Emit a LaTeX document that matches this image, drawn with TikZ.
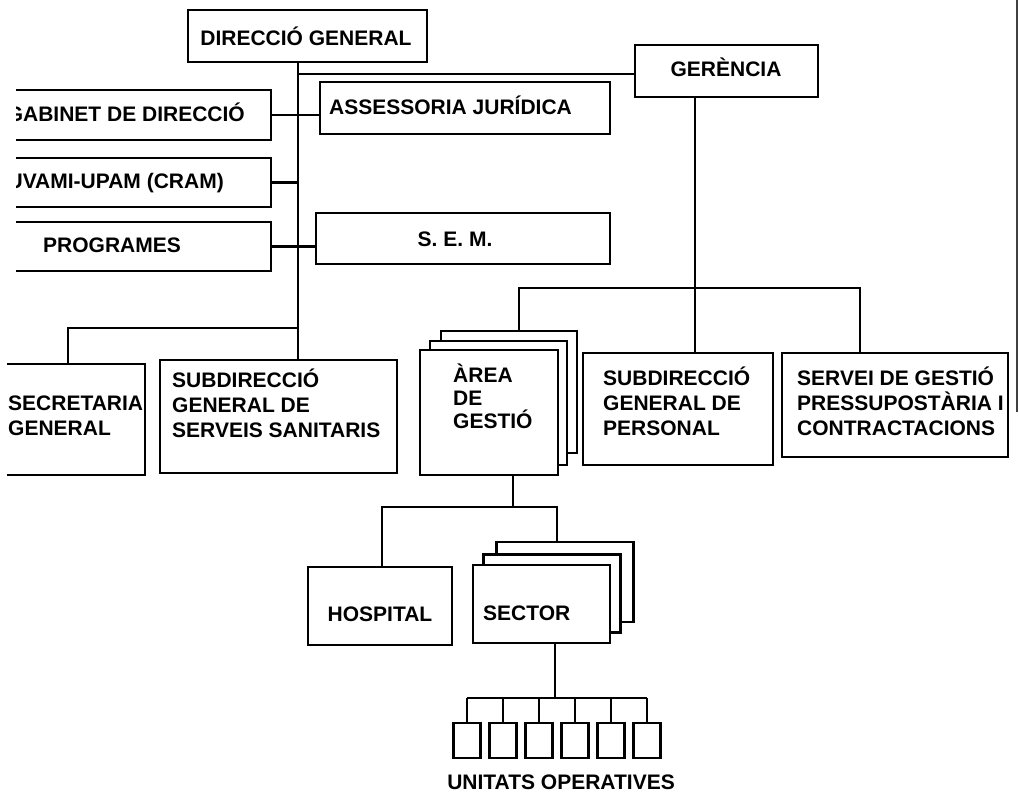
\documentclass[tikz,border=0pt]{standalone}
\usepackage{fontspec}
\setmainfont{Liberation Sans}
\begin{document}
\begin{tikzpicture}[x=1pt,y=-1pt,
  box/.style={draw,line width=2.8pt,fill=white,inner sep=0pt,outer sep=0pt},
  lbl/.style={font=\bfseries\fontsize{21}{25}\selectfont,inner sep=0pt},
  wire/.style={line width=2.4pt},
]
\useasboundingbox (0,0) rectangle (1019,794);

% ---- top level
\node[box,minimum width=239pt,minimum height=52pt] (dg) at (307.5,36) {};
\node[lbl,anchor=base] (dgT) at (306,46) {DIRECCIÓ GENERAL};
\node[box,minimum width=183pt,minimum height=52pt] (ger) at (726.5,71) {};
\node[lbl,anchor=base] (gerT) at (726,77) {GERÈNCIA};

% ---- staff units on the left (cut by the page edge)
\begin{scope}
  \clip (16,80) rectangle (300,280);
  \node[box,minimum width=351pt,minimum height=50pt] (gab) at (95.5,115) {};
  \node[lbl,anchor=base east] (gabT) at (245,122) {GABINET DE DIRECCIÓ};
  \node[box,minimum width=351pt,minimum height=49pt] (uva) at (95.5,182.5) {};
  \node[lbl,anchor=base east] (uvaT) at (224,189) {UVAMI-UPAM (CRAM)};
  \node[box,minimum width=351pt,minimum height=49pt] (prog) at (95.5,246.5) {};
  \node[lbl,anchor=base] (progT) at (112,253) {PROGRAMES};
\end{scope}

% ---- staff units on the right of the trunk
\node[box,minimum width=290pt,minimum height=52pt] (ass) at (465,108) {};
\node[lbl,anchor=base west] (assT) at (329,115) {ASSESSORIA JURÍDICA};
\node[box,minimum width=294pt,minimum height=51pt] (sem) at (463,238.5) {};
\node[lbl,anchor=base] (semT) at (455,247) {S. E. M.};

% ---- second level, direcció
\begin{scope}
  \clip (7,340) rectangle (160,490);
  \node[box,minimum width=154pt,minimum height=111pt] (sec) at (68,419.5) {};
  \node[lbl,anchor=base west] (secT1) at (8,410) {SECRETARIA};
  \node[lbl,anchor=base west] (secT2) at (8,435) {GENERAL};
\end{scope}
\node[box,minimum width=237pt,minimum height=113pt] (ssan) at (278.5,416.5) {};
\node[lbl,anchor=base west] (ssanT1) at (172,387) {SUBDIRECCIÓ};
\node[lbl,anchor=base west] (ssanT2) at (172,412) {GENERAL DE};
\node[lbl,anchor=base west] (ssanT3) at (172,437) {SERVEIS SANITARIS};

% ---- second level, gerència
\node[box,minimum width=136pt,minimum height=122pt] (areaC) at (509,392) {};
\node[box,minimum width=137pt,minimum height=124pt] (areaB) at (498.5,403) {};
\node[box,minimum width=138pt,minimum height=125pt] (areaA) at (489,412.5) {};
\node[lbl,anchor=base west] (areaT1) at (453,382) {ÀREA};
\node[lbl,anchor=base west] (areaT2) at (453,405) {DE};
\node[lbl,anchor=base west] (areaT3) at (453,428) {GESTIÓ};

\node[box,minimum width=190pt,minimum height=112pt] (pers) at (678,409) {};
\node[lbl,anchor=base west] (persT1) at (603,385) {SUBDIRECCIÓ};
\node[lbl,anchor=base west] (persT2) at (603,410) {GENERAL DE};
\node[lbl,anchor=base west] (persT3) at (603,435) {PERSONAL};

\node[box,minimum width=226pt,minimum height=104pt] (serv) at (895,405) {};
\node[lbl,anchor=base west] (servT1) at (797,385) {SERVEI DE GESTIÓ};
\node[lbl,anchor=base west] (servT2) at (797,410) {PRESSUPOSTÀRIA I};
\node[lbl,anchor=base west] (servT3) at (797,435) {CONTRACTACIONS};

% ---- third level
\node[box,minimum width=144pt,minimum height=78pt] (hosp) at (380,606) {};
\node[lbl,anchor=base] (hospT) at (380,621) {HOSPITAL};
\node[box,minimum width=137pt,minimum height=80pt] (secC) at (565,582) {};
\node[box,minimum width=137pt,minimum height=78pt] (secB) at (552,593.5) {};
\node[box,minimum width=137pt,minimum height=78pt] (secA) at (541.5,604) {};
\node[lbl,anchor=base west] (secAT) at (483,620) {SECTOR};

% ---- operative units
\foreach \i/\x in {1/467,2/503,3/539,4/575,5/611,6/647}
  \node[box,line width=2.4pt,minimum width=27pt,minimum height=35pt] (u\i) at (\x,740.5) {};
\node[lbl,anchor=base] (uT) at (561,789) {UNITATS OPERATIVES};

% ---- junction points
\coordinate (dgfoot) at (298,62);
\coordinate (gj) at (298,74);
\coordinate (sj) at (298,328);
\coordinate (gfoot) at (695,97);
\coordinate (ga) at (519,288);
\coordinate (gs) at (860,288);
\coordinate (af) at (513,475);
\coordinate (hb) at (382,507);
\coordinate (sb) at (557,507);
\coordinate (ub) at (555,698);

% ---- connectors
\draw[wire] (dgfoot) -- (dgfoot |- ssan.north);
\draw[wire] (gj) -- (gj -| ger.west);
\draw[wire] (gab.east) -- (gab.east -| ass.west);
\draw[wire] (uva.east) -- (uva.east -| dgfoot);
\draw[wire] (prog.east) -- (prog.east -| sem.west);
\draw[wire] (sj) -- (sj -| sec.north) -- (sec.north);
\draw[wire] (gfoot) -- (gfoot |- pers.north);
\draw[wire] (ga |- areaC.north) -- (ga) -- (gs) -- (gs |- serv.north);
\draw[wire] (af) -- (af |- hb);
\draw[wire] (hb |- hosp.north) -- (hb) -- (sb) -- (sb |- secC.north);
\draw[wire] (ub |- secA.south) -- (ub);
\draw[wire] (u1.north |- ub) -- (u6.north |- ub);
\foreach \i in {1,...,6}
  \draw[wire] (u\i.north |- ub) -- (u\i.north);

% ---- edge of the sheet
\draw[line width=1.3pt,black!75] (1017,0) -- (1017,412);
\end{tikzpicture}
\end{document}
